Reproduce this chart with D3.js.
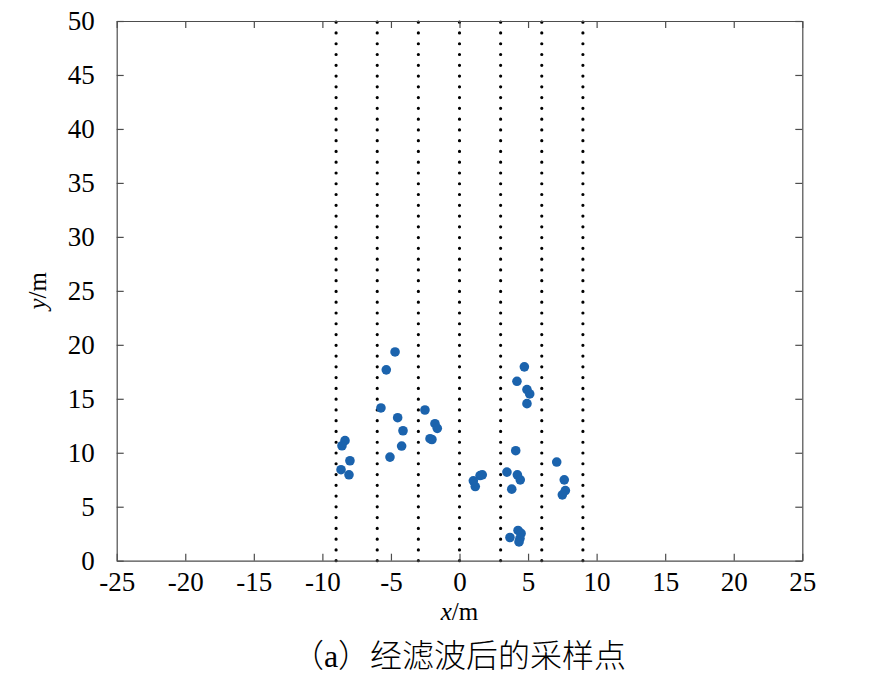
<!DOCTYPE html>
<html>
<head>
<meta charset="utf-8">
<script src="https://cdn.jsdelivr.net/npm/d3@7"></script>
<style>
  html, body { margin: 0; padding: 0; background: #fff; }
  svg { display: block; }
  .serif { font-family: "Liberation Serif", "Times New Roman", "DejaVu Serif", serif; }
</style>
</head>
<body>
<svg id="chart" width="884" height="677"></svg>
<script>
// ---- data ----
const xTicks = [-25, -20, -15, -10, -5, 0, 5, 10, 15, 20, 25];
const yTicks = [0, 5, 10, 15, 20, 25, 30, 35, 40, 45, 50];
const laneLines = [-9, -6, -3, 0, 3, 6, 9];
const pointsX = [
  -8.35, -8.57, -7.99, -8.64, -8.06,
  -4.70, -5.34, -5.73, -4.51, -4.12, -4.22, -5.07,
  -2.52, -1.79, -1.62, -2.01, -2.15,
  1.66, 1.50, 1.01, 1.15,
  4.73, 4.19, 4.92, 5.12, 4.92, 4.10, 3.46, 4.22, 4.43, 3.81,
  3.68, 4.27, 4.49, 4.41, 4.34,
  7.09, 7.64, 7.72, 7.50
];
const pointsY = [
  11.12, 10.65, 9.26, 8.43, 7.96,
  19.34, 17.68, 14.15, 13.25, 12.04, 10.62, 9.60,
  13.96, 12.69, 12.26, 11.23, 11.30,
  7.96, 7.89, 7.40, 6.87,
  17.96, 16.62, 15.85, 15.45, 14.55, 10.19, 8.21, 7.96, 7.49, 6.63,
  2.15, 2.80, 2.53, 2.06, 1.74,
  9.14, 7.49, 6.50, 6.10
];
const unitLabel = "m";
const captionParts = ["（", "a", "）经滤波后的采样点"];

// ---- layout ----
const svg = d3.select("#chart");
const L = 116.7, R = 802.3, T = 21, B = 560.7;
const x = d3.scaleLinear().domain([-25, 25]).range([L, R]);
const y = d3.scaleLinear().domain([0, 50]).range([B, T]);
const axisColor = "#4d4d4d";
const serifFont = '"Liberation Serif", "Times New Roman", "DejaVu Serif", serif';

// dotted lane lines
svg.append("g").selectAll("line").data(laneLines).join("line")
  .attr("x1", d => x(d)).attr("x2", d => x(d))
  .attr("y1", y(0)).attr("y2", y(50))
  .attr("stroke", "#000").attr("stroke-width", 3.2)
  .attr("stroke-linecap", "round")
  .attr("stroke-dasharray", "0 10.77");

// points
const pts = pointsX.map((v, i) => [v, pointsY[i]]);
svg.append("g").selectAll("circle").data(pts).join("circle")
  .attr("cx", d => x(d[0])).attr("cy", d => y(d[1]))
  .attr("r", 4.8).attr("fill", "#1b63ad");

// axes (box with inward ticks)
function styleAxis(g) {
  g.attr("font-family", serifFont).attr("font-size", 27);
  g.select(".domain").attr("stroke", axisColor).attr("stroke-width", 1.2);
  g.selectAll(".tick line").attr("stroke", axisColor).attr("stroke-width", 1.2);
  g.selectAll("text").attr("fill", "#000").attr("class", "serif")
    .attr("font-family", serifFont).style("font-size", "27px");
}
const xAxis = svg.append("g").attr("transform", `translate(0,${B})`)
  .call(d3.axisBottom(x).tickValues(xTicks).tickSize(-7).tickSizeOuter(0).tickFormat(d => String(d)));
styleAxis(xAxis);
xAxis.selectAll("text").attr("dy", "0.71em").attr("y", 11);

const xAxisTop = svg.append("g").attr("transform", `translate(0,${T})`)
  .call(d3.axisTop(x).tickValues(xTicks).tickSize(-7).tickSizeOuter(0).tickFormat(""));
styleAxis(xAxisTop);

const yAxis = svg.append("g").attr("transform", `translate(${L},0)`)
  .call(d3.axisLeft(y).tickValues(yTicks).tickSize(-7).tickSizeOuter(0).tickPadding(22).tickFormat(d => String(d)));
styleAxis(yAxis);

const yAxisRight = svg.append("g").attr("transform", `translate(${R},0)`)
  .call(d3.axisRight(y).tickValues(yTicks).tickSize(-7).tickSizeOuter(0).tickFormat(""));
styleAxis(yAxisRight);

// axis labels
const xl = svg.append("text").attr("class", "serif").attr("x", x(0)).attr("y", 620).attr("text-anchor", "middle")
  .style("font-size", "25px").attr("fill", "#000");
xl.append("tspan").style("font-style", "italic").text("x");
xl.append("tspan").text("/" + unitLabel);

const yl = svg.append("text").attr("class", "serif").attr("transform", `translate(46,${y(25)}) rotate(-90)`).attr("text-anchor", "middle")
  .style("font-size", "25px").attr("fill", "#000");
yl.append("tspan").style("font-style", "italic").text("y");
yl.append("tspan").text("/" + unitLabel);

// caption
const cap = svg.append("text").attr("x", 459).attr("y", 667).attr("text-anchor", "middle")
  .style("font-family", "'Noto Sans CJK SC', sans-serif").style("font-size", "32px")
  .style("font-weight", 300).attr("fill", "#000");
cap.append("tspan").text(captionParts[0]);
cap.append("tspan").attr("class", "serif").style("font-weight", 400).text(captionParts[1]);
cap.append("tspan").text(captionParts[2]);
</script>
</body>
</html>
